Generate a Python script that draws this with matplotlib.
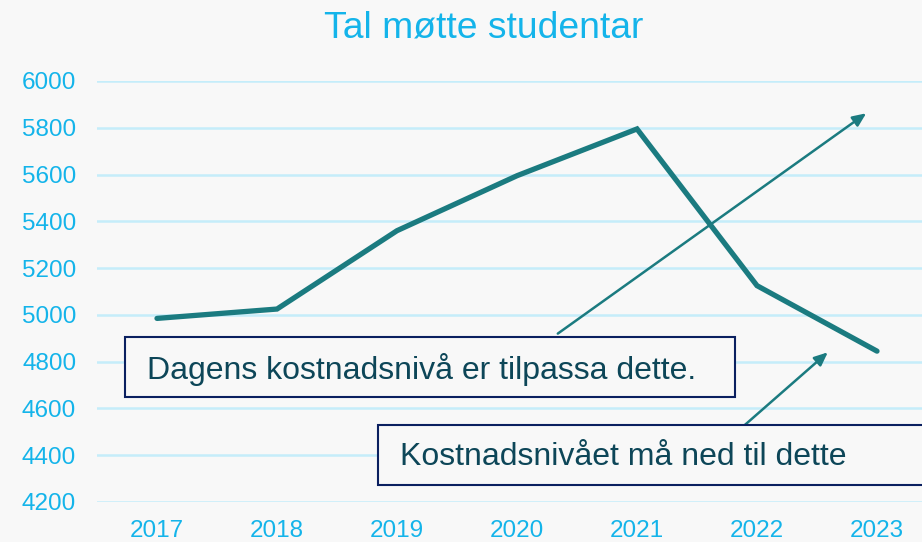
import matplotlib.pyplot as plt
from matplotlib.patches import Rectangle

years = ["2017", "2018", "2019", "2020", "2021", "2022", "2023"]
students = [4985, 5025, 5360, 5595, 5795, 5125, 4845]
yticks = [4200, 4400, 4600, 4800, 5000, 5200, 5400, 5600, 5800, 6000]

note1 = "Dagens kostnadsnivå er tilpassa dette."
note2 = "Kostnadsnivået må ned til dette"

bg = "#f8f8f8"
blue = "#14b4ea"
teal = "#1b7b80"
plt.rcParams["font.family"] = ["Liberation Sans", "DejaVu Sans"]

W, H = 922, 542
fig = plt.figure(figsize=(W / 100, H / 100), dpi=100, facecolor=bg)
ax = fig.add_axes([97 / W, 40 / H, 840 / W, 421 / H], facecolor=bg)

x = list(range(len(years)))
ax.plot(x, students, color=teal, lw=3.8, solid_capstyle="round",
        solid_joinstyle="miter", zorder=3, clip_on=False)

ax.set_xlim(-0.5, 6.5)
ax.set_ylim(4200, 6000)
ax.set_xticks(x)
ax.set_xticklabels(years)
ax.set_yticks(yticks)
ax.tick_params(colors=blue, labelsize=17.5, length=0)
ax.tick_params(axis="y", pad=15)
ax.tick_params(axis="x", pad=13)
ax.grid(axis="y", color="#c5edfa", lw=1.8, zorder=0)
for s in ax.spines.values():
    s.set_visible(False)

fig.text(484 / W, 1 - 28 / H, "Tal møtte studentar", color=blue,
         fontsize=26.8, ha="center", va="center")

# arrows
ax.annotate("", xy=(5.91, 5862), xytext=(3.34, 4920),
            arrowprops=dict(arrowstyle="-|>,head_length=0.8,head_width=0.35",
                            color=teal, lw=1.8, shrinkA=0, shrinkB=0), zorder=4)
ax.annotate("", xy=(5.59, 4840), xytext=(4.9, 4530),
            arrowprops=dict(arrowstyle="-|>,head_length=0.8,head_width=0.35",
                            color=teal, lw=1.8, shrinkA=0, shrinkB=0), zorder=4)

# text boxes
for (x0, y0, x1, y1), txt, tx in [((125, 337, 735, 397), note1, 147),
                                  ((378, 425, 940, 485), note2, 400)]:
    fig.patches.append(Rectangle((x0 / W, 1 - y1 / H), (x1 - x0) / W, (y1 - y0) / H,
                                 transform=fig.transFigure, facecolor=bg,
                                 edgecolor="#0b2060", lw=1.5, zorder=5))
    fig.text(tx / W, 1 - ((y0 + y1) / 2 + 2) / H, txt, color="#0d4658",
             fontsize=23, ha="left", va="center", zorder=6)

fig.savefig("out.png", dpi=100, facecolor=bg)
